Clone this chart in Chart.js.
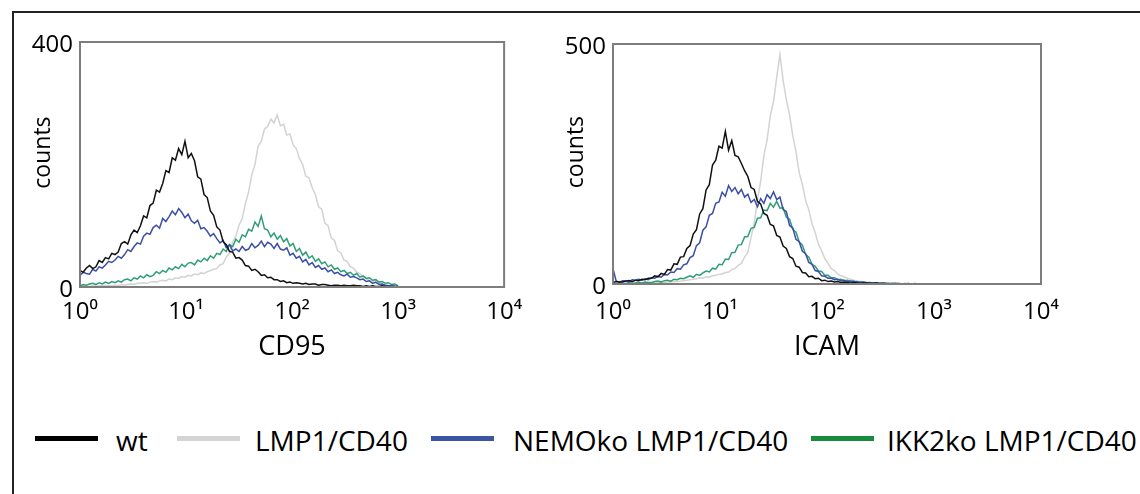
<!DOCTYPE html>
<html>
<head>
<meta charset="utf-8">
<script src="https://cdn.jsdelivr.net/npm/chart.js@4.4.1/dist/chart.umd.min.js"></script>
<style>
  html, body { margin: 0; padding: 0; background: #fff; }
  body { width: 1140px; height: 494px; position: relative; overflow: hidden; font-family: "Open Sans", sans-serif; }
  .frame { position: absolute; left: 12px; top: 11px; width: 1200px; height: 600px; border: 2px solid #222; }
  .panel { position: absolute; top: 0; height: 370px; }
  #leftPanel { left: 0; width: 533px; }
  #rightPanel { left: 533px; width: 560px; }
  .legend-line { position: absolute; top: 436px; width: 63px; height: 5px; }
  .legend-text { position: absolute; top: 426px; font-size: 28px; line-height: 1; color: #000; white-space: nowrap; }
</style>
</head>
<body>
<div class="frame"></div>
<div class="panel" id="leftPanel"><canvas id="cd95Chart"></canvas></div>
<div class="panel" id="rightPanel"><canvas id="icamChart"></canvas></div>
<div id="legend"></div>
<script>
// histogram channels are spaced evenly in decades, starting at 10^0
const channelStep = 0.03;
const seriesNames = ['wt', 'LMP1/CD40', 'NEMOko LMP1/CD40', 'IKK2ko LMP1/CD40'];
const decadeLabels = ['10\u2070', '10\u00b9', '10\u00b2', '10\u00b3', '10\u2074'];

// CD95 panel, counts per channel
const cd95Wt = [
  27,24,31,35,30,33,43,40,48,46,
  55,53,57,71,74,70,85,93,89,100,
  116,113,133,137,158,155,169,190,187,211,
  207,226,216,238,211,218,206,180,176,151,
  146,124,117,98,93,74,69,58,57,47,
  48,44,35,34,27,29,25,19,20,15,
  16,12,12,9,10,7,8,6,7,6,
  5,6,4,5,5,3,4,4,3,2,
  3,3,2,3,2,2,3,2,2,1,
  2,1,2,1,1,2,1,1,0,1,
  1
];
const cd95Lmp = [
  1,2,1,1,2,1,2,2,3,2,
  2,3,2,4,3,4,5,4,6,6,
  7,6,8,9,8,10,11,10,13,12,
  15,14,17,16,19,18,21,20,23,22,
  25,27,29,30,36,38,49,55,74,83,
  101,112,136,155,183,200,230,238,258,262,
  274,268,281,263,266,248,250,232,226,210,
  200,181,178,162,151,131,127,104,100,80,
  76,59,56,44,42,33,31,24,22,16,
  14,10,10,6,6,3,3,2,2,1,
  0
];
const cd95Nemo = [
  19,24,22,21,29,26,33,31,36,42,
  40,44,50,47,53,61,58,66,72,70,
  83,88,86,97,101,96,112,107,115,124,
  118,128,122,113,119,108,104,109,95,97,
  91,83,87,79,72,76,64,69,59,62,
  58,66,60,62,71,64,68,75,66,73,
  70,63,71,62,60,64,52,55,47,50,
  41,45,36,40,32,35,29,31,25,28,
  22,24,20,18,21,16,17,15,12,13,
  9,10,6,8,4,5,3,2,3,1,
  1
];
const cd95Ikk2 = [
  2,4,3,5,6,4,7,5,8,6,
  9,7,10,8,12,13,10,15,13,18,
  15,20,17,19,25,22,27,24,31,28,
  33,30,37,33,39,40,36,44,41,47,
  43,51,47,55,53,62,58,69,66,78,
  73,85,82,94,91,106,99,116,95,93,
  82,88,78,84,74,79,67,71,58,63,
  52,57,47,51,42,46,38,41,33,36,
  29,31,25,27,22,24,19,22,16,18,
  14,15,11,12,8,9,6,7,4,5,
  2
];

// ICAM panel, counts per channel
const icamWt = [
  3,5,4,4,6,7,5,8,7,10,
  9,12,12,17,15,22,20,30,29,42,
  41,56,57,74,80,104,113,146,157,196,
  207,248,258,287,283,318,279,299,268,265,
  251,236,224,201,197,172,167,147,143,124,
  121,101,98,79,74,57,53,37,35,24,
  23,15,16,11,12,7,8,5,6,4,
  5,3,4,3,2,3,2,1,2,2,
  1,1,2,1,1,1,0,1,1,0,
  0,0,1,0,0,0,0,0,0,0,
  0
];
const icamLmp = [
  0,0,1,0,1,1,1,1,1,1,
  2,2,2,2,3,3,3,4,4,5,
  5,6,7,8,9,10,11,13,12,15,
  14,17,18,20,21,24,25,30,32,39,
  43,56,66,97,127,175,214,267,300,350,
  380,430,478,424,384,353,309,276,232,207,
  174,155,125,107,83,69,53,43,32,28,
  21,17,15,12,10,8,6,5,4,3,
  3,2,2,2,1,1,1,1,1,0,
  1,0,0,0,0,0,0,0,0,0,
  0
];
const icamNemo = [
  32,6,4,7,7,5,9,8,10,8,
  11,9,13,12,16,14,20,19,25,24,
  32,31,40,42,55,59,80,86,112,119,
  143,147,168,171,191,183,205,193,201,188,
  197,181,187,170,176,161,178,168,186,178,
  192,176,181,155,151,122,117,93,88,68,
  63,45,41,28,26,17,16,12,12,9,
  10,7,8,5,6,4,5,3,4,2,
  3,2,2,1,2,1,1,0,1,1,
  0,1,0,0,1,0,0,0,0,0,
  0
];
const icamIkk2 = [
  1,0,2,1,1,3,1,2,3,2,
  4,3,3,5,6,4,7,8,6,10,
  9,12,11,14,17,14,20,18,23,27,
  25,33,31,41,40,52,51,65,66,81,
  82,98,99,116,118,137,138,154,153,168,
  160,172,158,159,139,135,114,108,88,81,
  62,56,41,37,27,26,18,18,13,13,
  9,10,7,8,5,6,3,4,3,3,
  2,2,2,1,1,1,1,1,0,1,
  0,0,0,0,0,0,0,0,0,0,
  0
];

const lineColors = ['#111111', '#d3d3d3', '#3b4fa6', '#2f9e74'];
const legendColors = ['#000000', '#d4d4d4', '#3a55a3', '#178c3c'];
const drawOrder = [1, 4, 2, 3];   // black on top, grey at the back

function buildDatasets(list) {
  return list.map((vals, k) => ({
    label: seriesNames[k],
    data: vals.map((v, i) => ({ x: i * channelStep, y: v })),
    borderColor: lineColors[k],
    borderWidth: 1.5,
    pointRadius: 0,
    tension: 0,
    order: drawOrder[k]
  }));
}

// grey box round the plot area
const plotFrame = {
  id: 'plotFrame',
  afterDatasetsDraw(chart) {
    const { ctx, chartArea: a } = chart;
    ctx.save();
    ctx.strokeStyle = '#7d7d7d';
    ctx.lineWidth = 2;
    ctx.strokeRect(a.left, a.top, a.right - a.left, a.bottom - a.top);
    ctx.restore();
  }
};

function makeChart(id, title, list, yMax, padTop, padRight, xHeight, tickPad) {
  return new Chart(document.getElementById(id), {
    type: 'line',
    data: { datasets: buildDatasets(list) },
    plugins: [plotFrame],
    options: {
      responsive: true,
      maintainAspectRatio: false,
      animation: false,
      layout: { padding: { top: padTop, right: padRight, left: 0, bottom: 0 } },
      plugins: { legend: { display: false }, tooltip: { enabled: false } },
      scales: {
        x: {
          type: 'linear', min: 0, max: 4,
          grid: { display: false, drawTicks: false },
          border: { display: false },
          ticks: {
            stepSize: 1, padding: tickPad, color: '#000', maxRotation: 0, autoSkip: false,
            font: { family: 'Open Sans', size: 24 },
            callback: v => decadeLabels[v]
          },
          title: {
            display: true, text: title, color: '#000',
            font: { family: 'Open Sans', size: 27 },
            padding: { top: 0, bottom: 6 }
          },
          afterFit: s => { s.height = xHeight; }
        },
        y: {
          min: 0, max: yMax,
          grid: { display: false, drawTicks: false },
          border: { display: false },
          ticks: {
            stepSize: yMax, padding: 7, labelOffset: 3, color: '#000',
            font: { family: 'Open Sans', size: 24 }
          },
          title: {
            display: true, text: '    counts', color: '#000',
            font: { family: 'Open Sans', size: 23 },
            padding: { top: 30, bottom: 0 }
          },
          afterFit: s => { s.width = 80; }
        }
      }
    }
  });
}

makeChart('cd95Chart', 'CD95', [cd95Wt, cd95Lmp, cd95Nemo, cd95Ikk2], 400, 42, 22, 83, 11);
makeChart('icamChart', 'ICAM', [icamWt, icamLmp, icamNemo, icamIkk2], 500, 44, 52, 86, 14);

// legend row under both panels
const legendLineLeft = [35, 177, 431, 811];
const legendTextLeft = [116, 255, 513, 887];
const legend = document.getElementById('legend');
seriesNames.forEach((name, k) => {
  const line = document.createElement('div');
  line.className = 'legend-line';
  line.style.left = legendLineLeft[k] + 'px';
  line.style.background = legendColors[k];
  legend.appendChild(line);
  const txt = document.createElement('div');
  txt.className = 'legend-text';
  txt.style.left = legendTextLeft[k] + 'px';
  txt.textContent = name;
  legend.appendChild(txt);
});
</script>
</body>
</html>
